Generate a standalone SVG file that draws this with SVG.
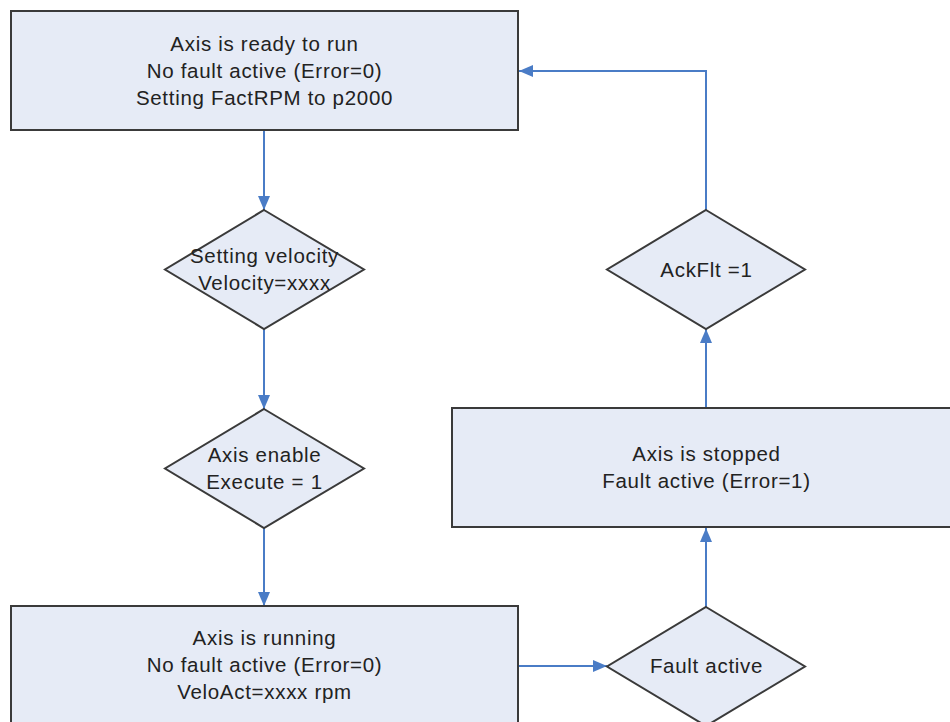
<svg xmlns="http://www.w3.org/2000/svg" width="950" height="722" viewBox="0 0 950 722">
<style>
.n{fill:#E6EBF6;stroke:#3a3a3a;stroke-width:2}
.t{font-family:"Liberation Sans",Arial,sans-serif;font-size:20.5px;letter-spacing:0.7px;fill:#222;text-anchor:middle}
.c{fill:none;stroke:#4A7CC6;stroke-width:2}
</style>
<defs>
<marker id="a" viewBox="0 0 14 12" refX="14" refY="6" markerWidth="14" markerHeight="12" markerUnits="userSpaceOnUse" orient="auto">
<path d="M0,0 L14,6 L0,12 Z" fill="#4A7CC6"/>
</marker>
</defs>
<rect width="950" height="722" fill="#fff"/>
<g id="connectors">
<line class="c" x1="264" y1="130" x2="264" y2="210" marker-end="url(#a)"/>
<line class="c" x1="264" y1="329" x2="264" y2="409" marker-end="url(#a)"/>
<line class="c" x1="264" y1="528" x2="264" y2="606" marker-end="url(#a)"/>
<line class="c" x1="518" y1="666" x2="607" y2="666" marker-end="url(#a)"/>
<line class="c" x1="706" y1="607" x2="706" y2="528" marker-end="url(#a)"/>
<line class="c" x1="706" y1="408" x2="706" y2="329" marker-end="url(#a)"/>
<polyline class="c" points="706,210 706,71 519,71" marker-end="url(#a)"/>
</g>
<g id="ready">
<rect class="n" x="11" y="11" width="507" height="119"/>
<text class="t" x="264.5" y="51">Axis is ready to run</text>
<text class="t" x="264.5" y="78">No fault active (Error=0)</text>
<text class="t" x="264.5" y="105">Setting FactRPM to p2000</text>
</g>
<g id="setvel">
<polygon class="n" points="264,210 364,269.5 264,329 165,269.5"/>
<text class="t" x="264.5" y="263">Setting velocity</text>
<text class="t" x="264.5" y="290">Velocity=xxxx</text>
</g>
<g id="enable">
<polygon class="n" points="264,409 364,468.5 264,528 165,468.5"/>
<text class="t" x="264.5" y="462">Axis enable</text>
<text class="t" x="264.5" y="489">Execute = 1</text>
</g>
<g id="running">
<rect class="n" x="11" y="606" width="507" height="130"/>
<text class="t" x="264.5" y="645">Axis is running</text>
<text class="t" x="264.5" y="672">No fault active (Error=0)</text>
<text class="t" x="264.5" y="699">VeloAct=xxxx rpm</text>
</g>
<g id="fault">
<polygon class="n" points="706,607 805,666.5 706,726 607,666.5"/>
<text class="t" x="706.5" y="673">Fault active</text>
</g>
<g id="stopped">
<rect class="n" x="452" y="408" width="510" height="119"/>
<text class="t" x="706.5" y="461">Axis is stopped</text>
<text class="t" x="706.5" y="488">Fault active (Error=1)</text>
</g>
<g id="ack">
<polygon class="n" points="706,210 805,269.5 706,329 607,269.5"/>
<text class="t" x="706.5" y="277">AckFlt =1</text>
</g>
</svg>
